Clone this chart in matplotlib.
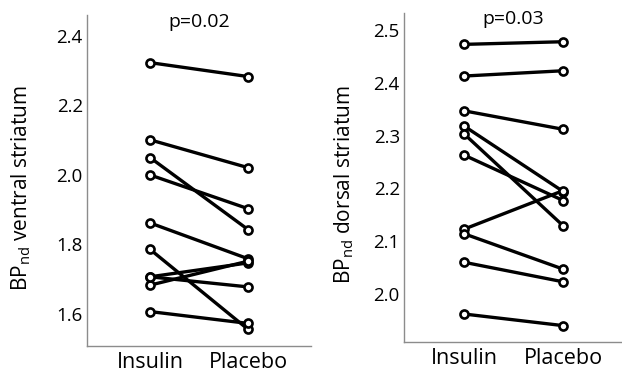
import matplotlib
matplotlib.use("Agg")
import matplotlib.pyplot as plt

plt.rcParams['font.family'] = ['Open Sans', 'DejaVu Sans']

conditions = ["Insulin", "Placebo"]

ventral_insulin = [2.323, 2.101, 2.050, 2.000, 1.862, 1.786, 1.707, 1.683, 1.707, 1.607]
ventral_placebo = [2.283, 2.021, 1.843, 1.903, 1.759, 1.556, 1.747, 1.752, 1.678, 1.573]

dorsal_insulin = [2.473, 2.413, 2.347, 2.318, 2.303, 2.263, 2.123, 2.114, 2.060, 1.962]
dorsal_placebo = [2.478, 2.423, 2.312, 2.194, 2.129, 2.177, 2.196, 2.047, 2.023, 1.940]

ventral_ticks = [1.6, 1.8, 2.0, 2.2, 2.4]
dorsal_ticks = [2.0, 2.1, 2.2, 2.3, 2.4, 2.5]

W, H = 622, 373
fig = plt.figure(figsize=(W / 100, H / 100), dpi=100)


def panel(rect_px, ins, pla, ticks, ylim, xlim, ylabel, label_x, ptext):
    x0, x1, ytop, ybot = rect_px
    ax = fig.add_axes([x0 / W, (H - ybot) / H, (x1 - x0) / W, (ybot - ytop) / H])
    for a, b in zip(ins, pla):
        ax.plot([0, 1], [a, b], color='black', lw=2.4, marker='o', ms=5.8,
                mfc='white', mec='black', mew=1.9, solid_capstyle='round', zorder=3)
    ax.set_xlim(*xlim)
    ax.set_ylim(*ylim)
    ax.set_xticks([0, 1])
    ax.set_xticklabels(conditions, fontsize=15.5)
    ax.set_yticks(ticks)
    ax.set_yticklabels([f"{t:.1f}" for t in ticks], fontsize=13.5)
    ax.tick_params(axis='both', length=0)
    ax.tick_params(axis='y', pad=3)
    ax.tick_params(axis='x', pad=4)
    for s in ['top', 'right']:
        ax.spines[s].set_visible(False)
    for s in ['left', 'bottom']:
        ax.spines[s].set_color('#8c8c8c')
        ax.spines[s].set_linewidth(1.0)
    fig.text(label_x / W, 1 - 85 / H, ylabel, rotation=90, ha='center', va='top',
             fontsize=15)
    ax.text(0.5, 0.98, ptext, transform=ax.transAxes, ha='center', va='center',
            fontsize=14)
    return ax


ax1 = panel((87, 311, 15, 346), ventral_insulin, ventral_placebo, ventral_ticks,
            (1.508, 2.46), (-0.643, 1.643),
            r"BP$_\mathregular{nd}$ ventral striatum", 21, "p=0.02")
ax2 = panel((404, 622, 12.7, 342), dorsal_insulin, dorsal_placebo, dorsal_ticks,
            (1.909, 2.533), (-0.609, 1.593),
            r"BP$_\mathregular{nd}$ dorsal striatum", 344, "p=0.03")

fig.savefig("out.png", dpi=100)
